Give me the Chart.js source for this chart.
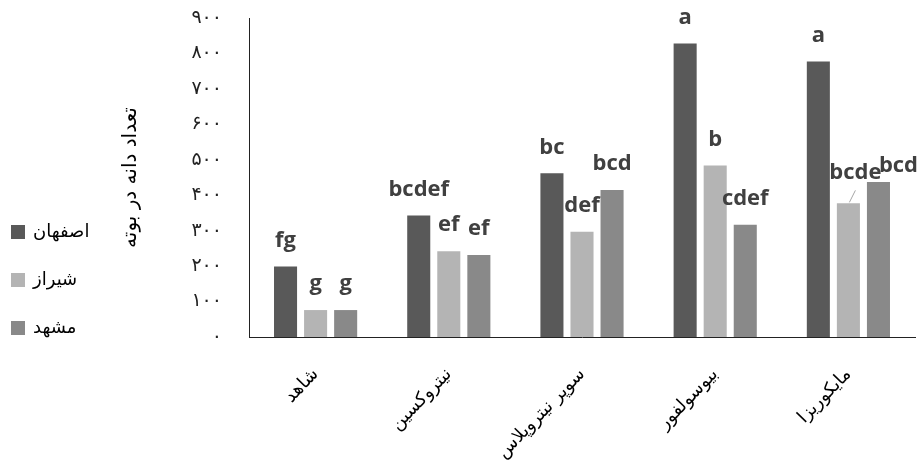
<!DOCTYPE html>
<html>
<head>
<meta charset="utf-8">
<script src="https://cdn.jsdelivr.net/npm/chart.js@4/dist/chart.umd.min.js"></script>
<style>
    html, body { margin: 0; padding: 0; background: #fff; }
    #wrap { width: 917px; height: 465px; position: relative; }
</style>
</head>
<body>
<div id="wrap"><canvas id="seedChart"></canvas></div>
<script>
/* DATA */
const treatments = ["شاهد", "نیتروکسین", "سوپر نیتروپلاس", "بیوسولفور", "مایکوریزا"];
const cities = ["اصفهان", "شیراز", "مشهد"];
const isfahanValues = [199, 343, 462, 828, 777];
const shirazValues = [76, 242, 297, 484, 377];
const mashhadValues = [76, 231, 415, 317, 437];
const isfahanLetters = ["fg", "bcdef", "bc", "a", "a"];
const shirazLetters = ["g", "ef", "def", "b", "bcde"];
const mashhadLetters = ["g", "ef", "bcd", "cdef", "bcd"];
const yAxisTitle = "تعداد دانه در بوته";

const persianDigits = "۰۱۲۳۴۵۶۷۸۹";
function toPersian(n) {
    return String(n).replace(/\d/g, d => persianDigits[d]);
}

const letters = [isfahanLetters, shirazLetters, mashhadLetters];
// a couple of labels are nudged off their bar in the original
const letterNudge = {
    "1-4": { dx: 7, dy: -5, leader: true },
    "2-4": { dx: 20, dy: 10 },
};

const letterPlugin = {
    id: "letters",
    afterDatasetsDraw(chart) {
        const ctx = chart.ctx;
        ctx.save();
        ctx.font = 'bold 22px "Open Sans"';
        ctx.fillStyle = "#404040";
        ctx.textAlign = "center";
        ctx.textBaseline = "middle";
        chart.data.datasets.forEach((ds, i) => {
            const meta = chart.getDatasetMeta(i);
            meta.data.forEach((bar, j) => {
                const nudge = letterNudge[i + "-" + j] || { dx: 0, dy: 0 };
                const x = bar.x + nudge.dx;
                const y = bar.y - 26 + nudge.dy;
                ctx.fillText(letters[i][j], x, y);
                if (nudge.leader) {
                    ctx.strokeStyle = "#a6a6a6";
                    ctx.lineWidth = 1;
                    ctx.beginPath();
                    ctx.moveTo(bar.x + 1, bar.y - 1);
                    ctx.lineTo(bar.x + 7, bar.y - 13);
                    ctx.stroke();
                }
            });
        });
        ctx.restore();
    },
};

const sideLegend = {
    id: "sideLegend",
    afterDraw(chart) {
        const ctx = chart.ctx;
        ctx.save();
        ctx.font = '18px "DejaVu Sans"';
        ctx.textBaseline = "middle";
        ctx.textAlign = "left";
        chart.data.datasets.forEach((ds, i) => {
            const y = 232 + i * 48;
            ctx.fillStyle = ds.backgroundColor;
            ctx.fillRect(11, y - 7, 14, 14);
            ctx.fillStyle = "#000";
            ctx.fillText(ds.label, 33, y);
        });
        ctx.restore();
    },
};

const seedChart = document.getElementById("seedChart");

new Chart(seedChart, {
    type: "bar",
    data: {
        labels: treatments,
        datasets: [
            {
                label: cities[0],
                data: isfahanValues,
                backgroundColor: "#595959",
            },
            {
                label: cities[1],
                data: shirazValues,
                backgroundColor: "#b4b4b4",
            },
            {
                label: cities[2],
                data: mashhadValues,
                backgroundColor: "#898989",
            },
        ],
    },
    options: {
        responsive: true,
        maintainAspectRatio: false,
        animation: false,
        categoryPercentage: 0.677,
        barPercentage: 0.767,
        layout: {
            padding: { left: 110, top: 18, right: 2, bottom: 0 },
        },
        plugins: {
            legend: { display: false },
            tooltip: { enabled: false },
        },
        scales: {
            x: {
                grid: { display: false, drawTicks: false },
                border: { display: true, color: "#222", width: 1 },
                ticks: {
                    autoSkip: false,
                    maxRotation: 46,
                    minRotation: 46,
                    padding: 27,
                    color: "#000",
                    font: { family: "DejaVu Sans", size: 18 },
                },
                afterFit(scale) {
                    scale.height = 128;
                },
            },
            y: {
                min: 0,
                max: 900,
                grid: { display: false, drawTicks: false },
                border: { display: true, color: "#222", width: 1 },
                ticks: {
                    stepSize: 100,
                    padding: 27,
                    color: "#222",
                    font: { family: "DejaVu Sans", size: 19 },
                    callback: (value) => toPersian(value),
                },
                title: {
                    display: true,
                    text: yAxisTitle,
                    color: "#000",
                    font: { family: "DejaVu Sans", size: 20 },
                    padding: { top: 9, bottom: 0 },
                },
                afterFit(scale) {
                    scale.width = 139;
                    scale.paddingTop = 0;
                },
            },
        },
    },
    plugins: [letterPlugin, sideLegend],
});
</script>
</body>
</html>
